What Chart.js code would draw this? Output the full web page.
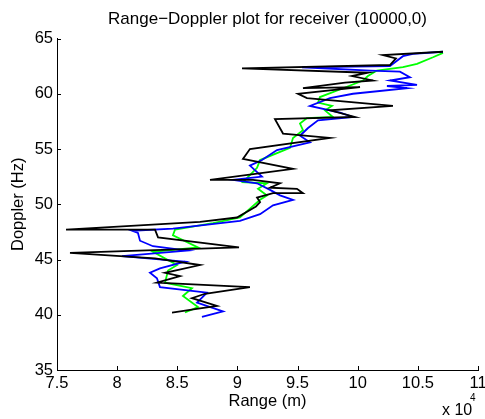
<!DOCTYPE html>
<html>
<head>
<meta charset="utf-8">
<script src="https://cdn.jsdelivr.net/npm/chart.js@4.4.0/dist/chart.umd.min.js"></script>
<style>
  html, body { margin: 0; padding: 0; background: #fff; }
  #wrap { width: 485px; height: 419px; }
</style>
</head>
<body>
<div id="wrap"><canvas id="myChart"></canvas></div>
<script>
// range in metres, doppler in Hz
const blackRange = [84560, 86470, 88300, 86220, 87300, 91040, 83310, 85230, 83980, 86890, 83150, 76080, 90130, 83400, 83150, 75750, 86890, 89960, 91540, 91880, 91630, 92960, 95450, 94950, 92710, 93540, 91290, 87720, 94620, 90460, 91040, 97690, 93790, 93120, 99770, 97690, 102930, 95780, 95030, 100190, 95450, 98940, 101270, 99520, 100850, 90380, 102680, 103180, 102100, 107090];
const blackDoppler = [40.2, 40.5, 40.8, 41.5, 41.9, 42.5, 42.9, 43.5, 43.8, 44.5, 45.1, 45.6, 46.1, 47.0, 47.7, 47.7, 48.4, 48.8, 49.8, 50.2, 50.6, 51.0, 51.0, 51.4, 51.5, 51.9, 52.2, 52.2, 53.2, 54.1, 55.0, 56.0, 56.4, 57.7, 57.9, 58.5, 58.9, 59.6, 60.0, 60.6, 60.5, 61.0, 61.2, 61.6, 61.9, 62.3, 62.6, 63.2, 63.5, 63.8];

const blueRange = [87050, 88800, 86640, 87470, 83560, 83310, 82730, 83560, 85640, 80400, 85810, 82980, 81900, 81730, 81240, 84640, 90210, 91880, 92960, 94620, 93540, 92710, 91630, 89630, 92040, 91040, 92040, 93290, 96030, 95200, 95870, 96700, 99610, 98530, 96030, 97690, 99610, 104100, 102430, 104930, 102680, 104340, 103510, 101020, 95370, 102680, 103760, 104590, 107090];
const blueDoppler = [39.8, 40.3, 41.1, 42.0, 42.5, 43.3, 43.8, 44.2, 44.8, 45.3, 45.8, 46.2, 46.7, 47.4, 47.6, 47.8, 48.5, 49.1, 49.9, 50.4, 50.8, 51.3, 51.9, 52.2, 52.5, 53.5, 54.0, 54.9, 55.6, 56.2, 56.9, 57.6, 57.9, 58.3, 58.9, 59.6, 60.0, 60.5, 60.7, 60.8, 61.2, 61.5, 62.0, 62.1, 62.4, 62.5, 63.4, 63.6, 63.8];

const greenRange = [85640, 86720, 85470, 86220, 83980, 84230, 84980, 82980, 86720, 84640, 84810, 87970, 90210, 91040, 91880, 92460, 91710, 92460, 90460, 91630, 91880, 94370, 94620, 95450, 95200, 95780, 97940, 97280, 97860, 96700, 96860, 98780, 100440, 100850, 101600, 103760, 104930, 106260, 107090];
const greenDoppler = [40.2, 40.7, 41.7, 42.4, 42.9, 44.0, 44.5, 45.7, 46.1, 47.2, 47.7, 48.3, 48.8, 49.6, 50.4, 50.8, 51.4, 51.9, 52.0, 53.3, 54.0, 55.1, 56.0, 56.7, 57.3, 57.8, 57.9, 58.5, 58.9, 59.2, 59.7, 60.5, 61.2, 61.6, 62.1, 62.4, 62.7, 63.3, 63.7];

const xTicks = [75000, 80000, 85000, 90000, 95000, 100000, 105000, 110000];
const yTicks = [35, 40, 45, 50, 55, 60, 65];

function pts(xs, ys) {
  return xs.map((x, i) => ({ x: x, y: ys[i] }));
}

const FONT = 'Liberation Sans, Arial, Helvetica, sans-serif';
const AX_FONT = { family: FONT, size: 16.5 };

// matlab style inward ticks + "x 10^4" exponent
const extras = {
  id: 'extras',
  afterDraw(chart) {
    const c = chart.ctx;
    const xs = chart.scales.x, ys = chart.scales.y;
    const a = chart.chartArea;
    c.save();
    c.strokeStyle = '#000';
    c.lineWidth = 1;
    c.beginPath();
    xTicks.forEach(v => {
      const p = Math.round(xs.getPixelForValue(v)) + 0.5;
      c.moveTo(p, a.bottom);
      c.lineTo(p, a.bottom - 4);
    });
    yTicks.forEach(v => {
      const p = Math.round(ys.getPixelForValue(v)) + 0.5;
      c.moveTo(a.left, p);
      c.lineTo(a.left + 4, p);
    });
    c.stroke();
    c.fillStyle = '#000';
    c.textBaseline = 'alphabetic';
    c.textAlign = 'left';
    c.font = '16px ' + FONT;
    c.fillText('x 10', 442, 415);
    c.font = '10px ' + FONT;
    c.fillText('4', 470, 401);
    c.restore();
  }
};

const ctx = document.getElementById('myChart');

const data = {
  datasets: [
    { label: 'black', data: pts(blackRange, blackDoppler), borderColor: '#000000' },
    { label: 'blue', data: pts(blueRange, blueDoppler), borderColor: '#0000ff' },
    { label: 'green', data: pts(greenRange, greenDoppler), borderColor: '#00ff00' },
  ].map(d => Object.assign(d, {
    showLine: true,
    borderWidth: 1.8,
    pointRadius: 0,
    tension: 0,
    fill: false,
  })),
};

var chart = new Chart(ctx, {
  type: 'scatter',
  data: data,
  options: {
    responsive: true,
    maintainAspectRatio: false,
    animation: false,
    layout: { padding: 0 },
    scales: {
      x: {
        type: 'linear',
        min: 75000,
        max: 110000,
        afterBuildTicks: s => { s.ticks = xTicks.map(v => ({ value: v })); },
        afterFit: s => { s.height = 49; s.paddingRight = 7; s.paddingLeft = 0; },
        grid: { display: false, drawTicks: false },
        border: { display: true, color: '#000', width: 1 },
        ticks: {
          color: '#000',
          padding: 4,
          maxRotation: 0,
          autoSkip: false,
          font: AX_FONT,
          callback: v => String(v / 10000),
        },
        title: {
          display: true,
          text: 'Range (m)',
          color: '#000',
          font: AX_FONT,
          padding: { top: 0, bottom: 8 },
        },
      },
      y: {
        type: 'linear',
        min: 35,
        max: 65,
        afterBuildTicks: s => { s.ticks = yTicks.map(v => ({ value: v })); },
        afterFit: s => { s.width = 57; s.paddingTop = 0; s.paddingBottom = 0; },
        grid: { display: false, drawTicks: false },
        border: { display: true, color: '#000', width: 1 },
        ticks: {
          color: '#000',
          padding: 4,
          autoSkip: false,
          font: AX_FONT,
        },
        title: {
          display: true,
          text: 'Doppler (Hz)',
          color: '#000',
          font: AX_FONT,
          padding: { top: 9, bottom: 0 },
        },
      },
    },
    plugins: {
      legend: { display: false },
      tooltip: { enabled: false },
      title: {
        display: true,
        fullSize: false,
        text: 'Range\u2212Doppler plot for receiver (10000,0)',
        color: '#000',
        font: { family: FONT, size: 17, weight: 'normal' },
        padding: { top: 9.5, bottom: 8.6 },
      },
    },
  },
  plugins: [extras],
});
</script>
</body>
</html>
